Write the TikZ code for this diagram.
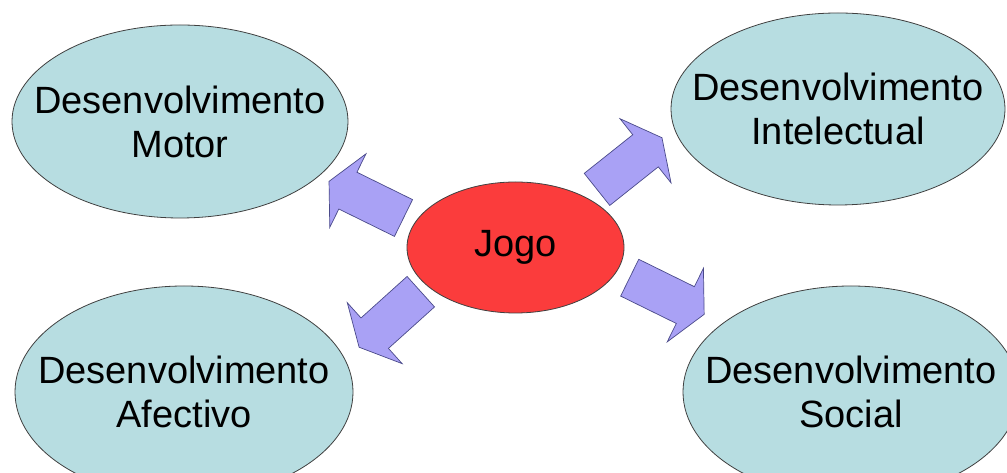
\documentclass[tikz,border=0pt]{standalone}
\usepackage{fontspec}
\setmainfont{Liberation Sans}
\usetikzlibrary{shapes.geometric}
\definecolor{devblue}{HTML}{B7DDE1}
\definecolor{jogored}{HTML}{FB3C3C}
\definecolor{arrowfill}{HTML}{A9A1F5}
\definecolor{arrowline}{HTML}{4A4A8A}
\definecolor{edgegray}{HTML}{404040}
\tikzset{
  devnode/.style={ellipse, draw=edgegray, line width=0.8pt, fill=devblue, inner sep=0pt},
  devtext/.style={align=center, inner sep=0pt, font=\fontsize{38}{44}\selectfont},
  jogonode/.style={ellipse, draw=edgegray, line width=0.8pt, fill=jogored, inner sep=0pt},
  blockarrow/.pic={
    \draw[draw=arrowline, line width=0.7pt, fill=arrowfill, line join=miter]
      (0,-20.5) -- (62,-20.5) -- (62,-41) -- (83,0) -- (62,41) -- (62,20.5) -- (0,20.5) -- cycle;
  }
}
\begin{document}
\begin{tikzpicture}[x=1pt,y=1pt]
\useasboundingbox (0,0) rectangle (1007,473);
\clip (0,0) rectangle (1007,473);
\fill[white] (0,0) rectangle (1007,473);

\node[devnode, minimum width=336pt, minimum height=193pt,
  label={[devtext]center:Desenvolvimento\\Motor}] (motor) at (180,351.5) {};
\node[devnode, minimum width=334pt, minimum height=192pt,
  label={[devtext]center:Desenvolvimento\\Intelectual}] (intel) at (838,364) {};
\node[devnode, minimum width=338pt, minimum height=212pt,
  label={[devtext]center:Desenvolvimento\\Afectivo}] (afect) at (184,81) {};
\node[devnode, minimum width=336pt, minimum height=212pt,
  label={[devtext]center:Desenvolvimento\\Social}] (social) at (851,81) {};
\node[jogonode, minimum width=217pt, minimum height=131pt,
  label={[devtext]center:Jogo}] (jogo) at (515.5,225.5) {};

\pic[rotate=153.8] (toMotor) at (403.5,255) {blockarrow};
\pic[rotate=38.5] (toIntel) at (597,283.6) {blockarrow};
\pic[rotate=222] (toAfect) at (420.8,181.3) {blockarrow};
\pic[rotate=-26.2] (toSocial) at (629.7,195.3) {blockarrow};
\end{tikzpicture}
\end{document}
